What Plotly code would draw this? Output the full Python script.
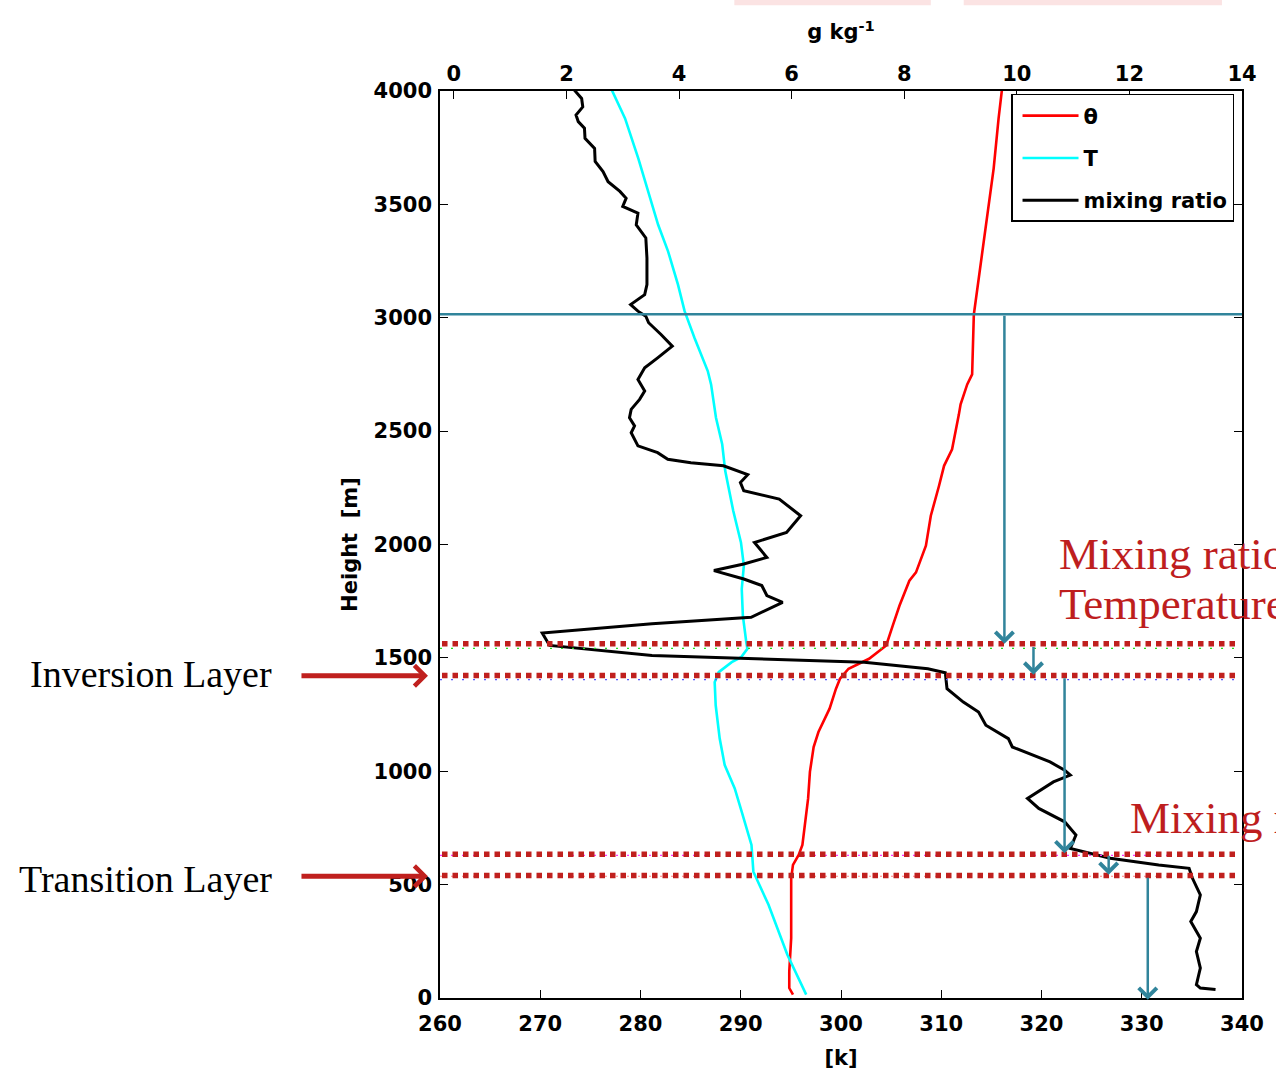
import plotly.graph_objects as go

# ---------------- data ----------------
# potential temperature theta [K] vs height [m]
theta_h = [4004, 3879, 3659, 3439, 3293, 3117, 3014, 2750, 2706, 2618, 2574, 2420, 2347, 2259,
           2127, 1995, 1877, 1840, 1730, 1643, 1555, 1496, 1452, 1408, 1364, 1276, 1173, 1107,
           997, 880, 675, 631, 587, 528, 264, 117, 44, 15]
theta_k = [316.05, 315.72, 315.23, 314.57, 314.07, 313.58, 313.25, 313.08, 312.59, 311.93, 311.76,
           311.08, 310.28, 309.78, 308.96, 308.47, 307.48, 306.82, 305.83, 305.17, 304.51, 302.8,
           300.75, 299.9, 299.5, 298.86, 297.75, 297.27, 296.9, 296.72, 296.15, 295.78, 295.21,
           295.03, 295.03, 294.84, 294.84, 295.21]

# temperature T [K] vs height [m]
temp_h = [4004, 3879, 3703, 3557, 3410, 3293, 3146, 3029, 2911, 2765, 2706, 2559, 2442, 2325,
          2149, 2009, 1907, 1804, 1686, 1570, 1540, 1503, 1481, 1437, 1393, 1291, 1144, 1027,
          924, 821, 675, 557, 411, 191, 15]
temp_k = [277.14, 278.46, 279.78, 280.77, 281.76, 282.75, 283.74, 284.40, 285.39, 286.71, 287.04,
          287.53, 288.15, 288.45, 289.25, 290.02, 290.31, 290.10, 290.21, 290.55, 290.66, 290.03,
          289.1, 287.8, 287.4, 287.5, 287.9, 288.4, 289.4, 290.1, 291.07, 291.26, 292.77, 294.65,
          296.53]

# water vapour mixing ratio [g/kg] vs height [m]
mix_h = [4004, 3967, 3930, 3894, 3865, 3836, 3791, 3747, 3689, 3645, 3600, 3557, 3527, 3491,
         3461, 3410, 3352, 3263, 3146, 3102, 3058, 3029, 3007, 2978, 2926, 2875, 2823, 2779,
         2728, 2677, 2640, 2596, 2559, 2523, 2493, 2435, 2405, 2376, 2361, 2347, 2308, 2273,
         2237, 2200, 2127, 2053, 2009, 1943, 1914, 1885, 1848, 1819, 1775, 1745, 1679, 1650,
         1610, 1555, 1511, 1481, 1452, 1434, 1364, 1305, 1261, 1203, 1144, 1107, 1041, 1005,
         983, 953, 880, 836, 777, 719, 660, 616, 587, 572, 528, 455, 381, 337, 264, 205, 132,
         59, 44, 37]
mix_q = [2.14, 2.27, 2.29, 2.17, 2.21, 2.32, 2.33, 2.50, 2.51, 2.65, 2.74, 2.95, 3.06, 3.00,
         3.27, 3.24, 3.41, 3.43, 3.43, 3.39, 3.14, 3.27, 3.41, 3.46, 3.68, 3.88, 3.62, 3.39,
         3.27, 3.39, 3.30, 3.15, 3.12, 3.21, 3.15, 3.27, 3.62, 3.80, 4.21, 4.79, 5.22, 5.09,
         5.15, 5.78, 6.16, 5.91, 5.34, 5.56, 5.15, 4.62, 5.15, 5.47, 5.56, 5.84, 5.28, 3.52,
         1.57, 1.70, 3.52, 7.29, 8.42, 8.73, 8.76, 9.05, 9.32, 9.45, 9.85, 9.92, 10.59, 10.85,
         10.95, 10.65, 10.19, 10.39, 10.85, 11.05, 10.95, 11.66, 12.52, 13.06, 13.12, 13.26,
         13.19, 13.09, 13.26, 13.19, 13.26, 13.19, 13.26, 13.53]

k_ticks = [260, 270, 280, 290, 300, 310, 320, 330, 340]
q_ticks = [0, 2, 4, 6, 8, 10, 12, 14]
h_ticks = [0, 500, 1000, 1500, 2000, 2500, 3000, 3500, 4000]

# annotation overlay values
layer_lines_m = [1562, 1422, 634, 540]          # red dotted boundaries
thin_lines = [(1542, "#22dd22"), (1404, "#5555ff"), (629, "#ff33ff"), (537, "#ff8080")]
top_line_m = 3015                               # blue horizontal line
arrows = [  # (x K, tail m, tip m)
    (316.3, 3015, 1562),
    (319.2, 1555, 1426),
    (322.3, 1417, 638),
    (326.7, 634, 543),
    (330.6, 537, -8),
]

TEAL = "#31849B"
DRED = "#BE1E1E"
AXFONT = dict(family="DejaVu Sans", size=21, color="black", weight="bold")
SERIF = "Liberation Serif"

fig = go.Figure()
fig.add_trace(go.Scatter(x=theta_k, y=theta_h, mode="lines", name="θ", legendgroup="a",
                         line=dict(color="#ff0000", width=2.6)))
fig.add_trace(go.Scatter(x=temp_k, y=temp_h, mode="lines", name="T", legendgroup="b",
                         line=dict(color="#00ffff", width=2.6)))
fig.add_trace(go.Scatter(x=mix_q, y=mix_h, mode="lines", name="mixing ratio", legendgroup="c",
                         xaxis="x2", line=dict(color="black", width=3)))

shapes = []
# blue line at ~3000 m
shapes.append(dict(type="line", xref="x", yref="y", x0=260, x1=340, y0=top_line_m, y1=top_line_m,
                   line=dict(color=TEAL, width=2.5), layer="above"))
for h, c in thin_lines:
    shapes.append(dict(type="line", xref="x", yref="y", x0=260, x1=339.5, y0=h, y1=h,
                       line=dict(color=c, width=1.2, dash="2px,9px"), layer="above"))
for h in layer_lines_m:
    shapes.append(dict(type="line", xref="x", yref="y", x0=260.2, x1=339.5, y0=h, y1=h,
                       line=dict(color="#C0201E", width=5.5, dash="5.5px,5px"), layer="above"))
# faint pink remnants at top of the slide
shapes.append(dict(type="rect", xref="paper", yref="paper", x0=0.367, x1=0.612, y0=1.0946, y1=1.101,
                   fillcolor="#fbe3e3", line=dict(width=0)))
shapes.append(dict(type="rect", xref="paper", yref="paper", x0=0.653, x1=0.975, y0=1.0946, y1=1.101,
                   fillcolor="#fbe3e3", line=dict(width=0)))

ann = []
for xk, tail, tip in arrows:
    ann.append(dict(x=xk, y=tip, ax=xk, ay=tail, xref="x", yref="y", axref="x", ayref="y",
                    text="", showarrow=True, arrowhead=4, arrowsize=1.4, arrowwidth=2.5,
                    arrowcolor=TEAL))
# red arrows on the left
for h in [1421, 537]:
    ann.append(dict(x=-0.015, y=h, xref="paper", yref="y", ax=-128, ay=0, text="",
                    showarrow=True, arrowhead=4, arrowsize=0.8, arrowwidth=5, arrowcolor="#C0201E"))

LEFTFONT = dict(family=SERIF, size=38, color="black", weight="normal")
RIGHTFONT = dict(family=SERIF, size=45, color=DRED, weight="normal")
ann.append(dict(x=-0.2064, y=1430, xref="paper", yref="y", xanchor="right", yanchor="middle",
                text="Inversion Layer", showarrow=False, font=LEFTFONT))
ann.append(dict(x=-0.2064, y=527, xref="paper", yref="y", xanchor="right", yanchor="middle",
                text="Transition Layer", showarrow=False, font=LEFTFONT))
ann.append(dict(x=0.7689, y=1958, xref="paper", yref="y", xanchor="left", yanchor="middle",
                text="Mixing ratio", showarrow=False, font=RIGHTFONT))
ann.append(dict(x=0.7689, y=1738, xref="paper", yref="y", xanchor="left", yanchor="middle",
                text="Temperature", showarrow=False, font=RIGHTFONT))
ann.append(dict(x=0.8578, y=792, xref="paper", yref="y", xanchor="left", yanchor="middle",
                text="Mixing ratio", showarrow=False, font=RIGHTFONT))

fig.update_layout(
    width=1276, height=1078,
    margin=dict(l=440, r=27, t=91, b=78),
    paper_bgcolor="white", plot_bgcolor="white",
    font=AXFONT,
    showlegend=True,
    legend=dict(x=0.712, y=0.9967, xanchor="left", yanchor="top", bgcolor="white",
                bordercolor="black", borderwidth=1.5, font=AXFONT, tracegroupgap=12,
                itemwidth=56, indentation=5),
    xaxis=dict(range=[260, 340], tickvals=k_ticks, ticks="inside", ticklen=8, tickcolor="black",
               showline=True, linecolor="black", linewidth=1.5, mirror=True, showgrid=False,
               zeroline=False, tickfont=AXFONT, ticklabelstandoff=6,
               title=dict(text="[k]", font=AXFONT, standoff=15)),
    xaxis2=dict(range=[-0.246, 14], tickvals=q_ticks, overlaying="x", side="top", ticks="inside",
                ticklen=8, tickcolor="black", showline=True, linecolor="black", linewidth=1.5,
                showgrid=False, zeroline=False, tickfont=AXFONT,
                title=dict(text="g kg<sup>-1</sup>", font=AXFONT, standoff=16)),
    yaxis=dict(range=[0, 4000], tickvals=h_ticks, ticks="inside", ticklen=8, tickcolor="black",
               showline=True, linecolor="black", linewidth=1.5, mirror="ticks", showgrid=False,
               zeroline=False, tickfont=AXFONT, ticklabelstandoff=2,
               title=dict(text="Height  [m]", font=AXFONT, standoff=10)),
    shapes=shapes,
    annotations=ann,
)

fig.write_html("out.html", config={"displayModeBar": False},
               post_script="document.body.style.margin='0px';document.body.style.overflow='hidden';")
